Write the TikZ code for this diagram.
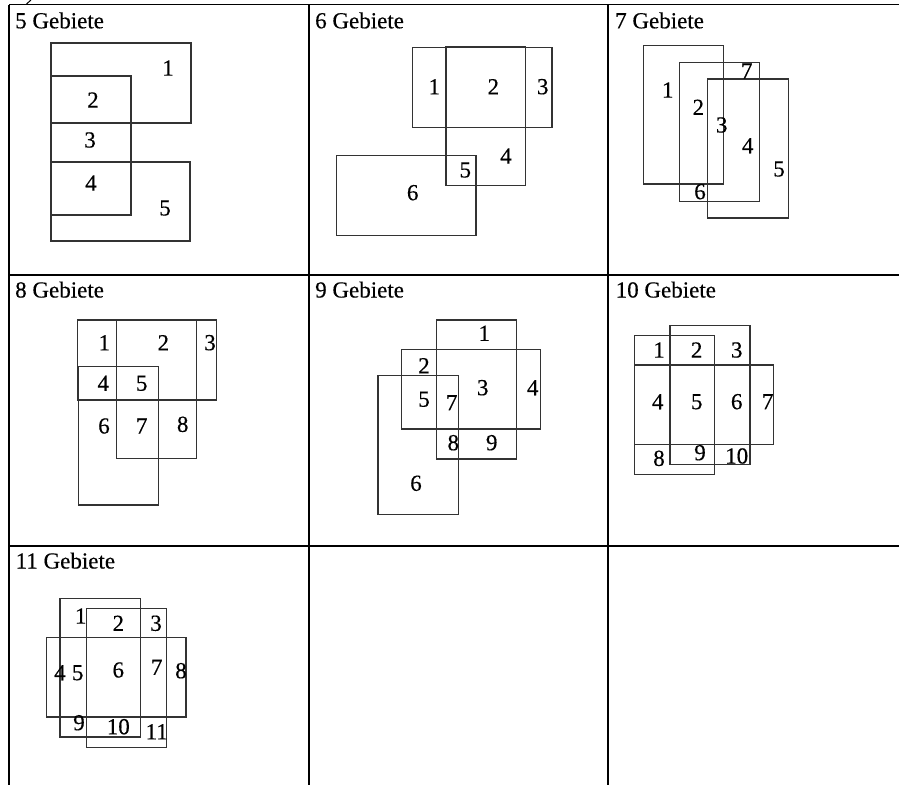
\documentclass[tikz,border=0pt]{standalone}
\usepackage{fontspec}
\setmainfont{Liberation Serif}
\newfontfamily\heavyserif{Liberation Serif}[FakeBold=0.4]
\begin{document}
\begin{tikzpicture}[x=1pt,y=-1pt,
  gridline/.style={line width=1.7pt,black},
  box/.style={line width=1.2pt,draw=black!80},
  lbl/.style={inner sep=0pt,font=\heavyserif\fontsize{23}{27}\selectfont},
  ttl/.style={inner sep=0pt,anchor=base west,font=\heavyserif\fontsize{23}{27}\selectfont}]
\useasboundingbox (0,0) rectangle (899,785);
% table
\draw[gridline] (9,4.5) -- (899,4.5);
\draw[gridline] (9,275) -- (899,275);
\draw[gridline] (9,546) -- (899,546);
\draw[gridline] (9,4.5) -- (9,785);
\draw[gridline] (309,4.5) -- (309,785);
\draw[gridline] (608,4.5) -- (608,785);
\draw[line width=1pt] (26.5,4) .. controls (29,2.5) .. (31,0);
% titles
\node[ttl] (t5) at (15,28.3) {5 Gebiete};
\node[ttl] (t6) at (315,28.3) {6 Gebiete};
\node[ttl] (t7) at (615,28.3) {7 Gebiete};
\node[ttl] (t8) at (15,297.5) {8 Gebiete};
\node[ttl] (t9) at (315,297.5) {9 Gebiete};
\node[ttl] (t10) at (615.5,297.5) {10 Gebiete};
\node[ttl] (t11) at (15.5,568.5) {11 Gebiete};
% panel 5
\draw[box] (51,43) rectangle (191,123);
\draw[box] (51,76) rectangle (131,215);
\draw[box] (51,162) rectangle (190,241);
\node[lbl] (a1) at (168,68) {1};
\node[lbl] (a2) at (93,100) {2};
\node[lbl] (a3) at (90,140) {3};
\node[lbl] (a4) at (91,183) {4};
\node[lbl] (a5) at (165,208) {5};
% panel 6
\draw[box] (412.7,47.3) rectangle (552,127.3);
\draw[box] (446,46.7) rectangle (525.3,185.7);
\draw[box] (336.7,155.7) rectangle (476,235.7);
\node[lbl] (b1) at (434.3,86.7) {1};
\node[lbl] (b2) at (493.3,86.7) {2};
\node[lbl] (b3) at (542.7,86.7) {3};
\node[lbl] (b4) at (506,156) {4};
\node[lbl] (b5) at (465.3,170) {5};
\node[lbl] (b6) at (412.7,192.7) {6};
% panel 7
\draw[box] (643.7,45.3) rectangle (723.7,184);
\draw[box] (679.3,62.3) rectangle (759.3,201.3);
\draw[box] (707.7,79) rectangle (788.3,218);
\node[lbl] (c1) at (667.7,90) {1};
\node[lbl] (c2) at (698.3,107.3) {2};
\node[lbl] (c3) at (721.7,125) {3};
\node[lbl] (c4) at (747.7,145.7) {4};
\node[lbl] (c5) at (779,169) {5};
\node[lbl] (c6) at (700,191.7) {6};
\node[lbl] (c7) at (746.7,71) {7};
% panel 8
\draw[box] (77.7,320) rectangle (216.7,400);
\draw[box] (116.7,320) rectangle (196.7,458.3);
\draw[box] (78.7,366.7) rectangle (158.3,505);
\node[lbl] (d1) at (104.3,342.7) {1};
\node[lbl] (d2) at (163.3,342.7) {2};
\node[lbl] (d3) at (210,342.7) {3};
\node[lbl] (d4) at (103.3,383.3) {4};
\node[lbl] (d5) at (141.7,383.3) {5};
\node[lbl] (d6) at (104,426) {6};
\node[lbl] (d7) at (141.7,426) {7};
\node[lbl] (d8) at (182.7,424.3) {8};
% panel 9
\draw[box] (436.7,320) rectangle (516.7,459);
\draw[box] (401.3,349.3) rectangle (540.7,429);
\draw[box] (378,375.3) rectangle (458.3,514.3);
\node[lbl] (e1) at (484.3,333.3) {1};
\node[lbl] (e2) at (424,365.7) {2};
\node[lbl] (e3) at (482.7,387.7) {3};
\node[lbl] (e4) at (532.7,387.7) {4};
\node[lbl] (e5) at (424,399.3) {5};
\node[lbl] (e6) at (416,483.3) {6};
\node[lbl] (e7) at (451.7,402.7) {7};
\node[lbl] (e8) at (453.3,442.7) {8};
\node[lbl] (e9) at (491.7,442.7) {9};
% panel 10
\draw[box] (670,325.7) rectangle (750,464.7);
\draw[box] (634.7,335.3) rectangle (714.7,474.3);
\draw[box] (634.7,365) rectangle (773.7,444.3);
\node[lbl] (f1) at (659,350) {1};
\node[lbl] (f2) at (696.7,350) {2};
\node[lbl] (f3) at (736.7,350) {3};
\node[lbl] (f4) at (657.7,401.7) {4};
\node[lbl] (f5) at (696.7,401.7) {5};
\node[lbl] (f6) at (736.7,401.7) {6};
\node[lbl] (f7) at (767.7,401.7) {7};
\node[lbl] (f8) at (659,458.3) {8};
\node[lbl] (f9) at (700,452.7) {9};
\node[lbl] (f10) at (736.7,456) {10};
% panel 11
\draw[box] (60,598.3) rectangle (140.3,737);
\draw[box] (86.7,608.7) rectangle (166.7,747.7);
\draw[box] (46.7,637.7) rectangle (186,717);
\node[lbl] (g1) at (80.7,616) {1};
\node[lbl] (g2) at (118.3,623.3) {2};
\node[lbl] (g3) at (156,623.3) {3};
\node[lbl] (g4) at (60,672.7) {4};
\node[lbl] (g5) at (77.7,672.7) {5};
\node[lbl] (g6) at (118.3,670) {6};
\node[lbl] (g7) at (156.7,667.3) {7};
\node[lbl] (g8) at (181,670.7) {8};
\node[lbl] (g9) at (79,722.7) {9};
\node[lbl] (g10) at (118.3,726.7) {10};
\node[lbl] (g11) at (156.7,731.7) {11};
\end{tikzpicture}
\end{document}
